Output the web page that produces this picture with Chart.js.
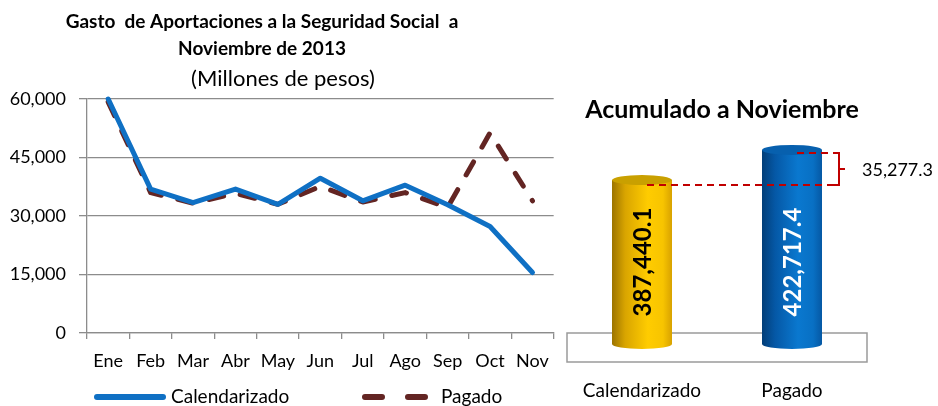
<!DOCTYPE html>
<html>
<head>
<meta charset="utf-8">
<script src="https://cdn.jsdelivr.net/npm/chart.js@4/dist/chart.umd.min.js"></script>
<style>
  html, body { margin: 0; padding: 0; background: #fff; }
  #wrap { position: relative; width: 938px; height: 406px; overflow: hidden; }
  #lineBox { position: absolute; left: 0; top: 0; width: 560px; height: 406px; }
  #barBox { position: absolute; left: 560px; top: 0; width: 378px; height: 406px; }
</style>
</head>
<body>
<div id="wrap">
  <div id="lineBox"><canvas id="lineChart"></canvas></div>
  <div id="barBox"><canvas id="barChart"></canvas></div>
</div>
<script>
// ---- data ----
const months = ['Ene', 'Feb', 'Mar', 'Abr', 'May', 'Jun', 'Jul', 'Ago', 'Sep', 'Oct', 'Nov'];
const calendarizado = [60000, 36900, 33400, 36900, 33000, 39700, 33900, 37900, 32900, 27300, 15500];
const pagado = [59200, 36000, 33300, 35800, 33000, 37600, 33600, 36000, 32200, 51300, 33900];
const yTicks = [0, 15000, 30000, 45000, 60000];

const totalLabels = ['Calendarizado', 'Pagado'];
const totalValues = [387440.1, 422717.4];

const FONT = 'Lato, "Open Sans", sans-serif';
const BLUE = '#0F70C4';
const MAROON = '#632523';
const GRID = '#8c8c8c';

Chart.defaults.font.family = FONT;
Chart.defaults.color = '#000';

const fmt = v => v.toLocaleString('en-US');
const fmt1 = v => v.toLocaleString('en-US', { minimumFractionDigits: 1, maximumFractionDigits: 1 });

// titles + legend for the monthly chart
const lineDecor = {
  id: 'lineDecor',
  afterDraw(chart) {
    const ctx = chart.ctx;
    ctx.save();
    ctx.fillStyle = '#000';
    ctx.textAlign = 'center';
    ctx.textBaseline = 'middle';
    ctx.font = 'bold 19px ' + FONT;
    ctx.fillText('Gasto  de Aportaciones a la Seguridad Social  a', 262, 22);
    ctx.fillText('Noviembre de 2013', 262, 49);
    ctx.font = '22px ' + FONT;
    ctx.fillText('(Millones de pesos)', 283, 79);

    // legend
    const ly = 397;
    ctx.lineCap = 'round';
    ctx.lineWidth = 6;
    ctx.strokeStyle = BLUE;
    ctx.beginPath();
    ctx.moveTo(97, ly);
    ctx.lineTo(163, ly);
    ctx.stroke();
    ctx.strokeStyle = MAROON;
    ctx.setLineDash([17, 26]);
    ctx.beginPath();
    ctx.moveTo(365, ly);
    ctx.lineTo(428, ly);
    ctx.stroke();
    ctx.setLineDash([]);
    ctx.textAlign = 'left';
    ctx.font = '19px ' + FONT;
    ctx.fillText('Calendarizado', 171, ly);
    ctx.fillText('Pagado', 441, ly);
    ctx.restore();
  }
};

new Chart(document.getElementById('lineChart'), {
  type: 'line',
  data: {
    labels: months,
    datasets: [
      {
        label: 'Calendarizado',
        data: calendarizado,
        borderColor: BLUE,
        borderWidth: 5,
        borderCapStyle: 'round',
        borderJoinStyle: 'round',
        pointRadius: 0,
        tension: 0,
        clip: false
      },
      {
        label: 'Pagado',
        data: pagado,
        borderColor: MAROON,
        borderWidth: 5,
        borderDash: [15, 17],
        borderCapStyle: 'round',
        borderJoinStyle: 'round',
        pointRadius: 0,
        tension: 0,
        clip: false
      }
    ]
  },
  options: {
    responsive: true,
    maintainAspectRatio: false,
    animation: false,
    layout: { padding: { top: 99, left: 0, right: 4, bottom: 33 } },
    plugins: { legend: { display: false }, tooltip: { enabled: false } },
    scales: {
      x: {
        offset: true,
        afterFit: s => { s.height = 40; },
        grid: { offset: true, drawOnChartArea: false, tickLength: 6, color: GRID, lineWidth: 1.3 },
        border: { color: GRID, width: 1.3 },
        ticks: { padding: 11, font: { size: 18 }, color: '#000', maxRotation: 0, autoSkip: false }
      },
      y: {
        min: 0,
        max: 60000,
        afterFit: s => { s.width = 87; },
        afterBuildTicks: s => { s.ticks = yTicks.map(v => ({ value: v })); },
        grid: { color: GRID, lineWidth: 1.3, tickLength: 8 },
        border: { color: GRID, width: 1.3 },
        ticks: { padding: 13, font: { size: 18 }, color: '#000', callback: v => fmt(v) }
      }
    }
  },
  plugins: [lineDecor]
});

// cylinders, floor, labels and the difference bracket
function shade(ctx, x0, x1, stops) {
  const g = ctx.createLinearGradient(x0, 0, x1, 0);
  stops.forEach(s => g.addColorStop(s[0], s[1]));
  return g;
}

const cylinderStyles = [
  { body: [[0, '#9C7400'], [0.22, '#D9A500'], [0.6, '#FFCC00'], [0.85, '#F7C400'], [1, '#D8A200']], top: '#C9A000', text: '#000' },
  { body: [[0, '#023E78'], [0.22, '#0558A6'], [0.6, '#0A78CF'], [0.85, '#0870C4'], [1, '#0558A4']], top: '#0760AE', text: '#fff' }
];

const cylinders = {
  id: 'cylinders',
  beforeDatasetsDraw(chart) {
    const ctx = chart.ctx;
    const a = chart.chartArea;
    const base = chart.scales.y.getPixelForValue(chart.scales.y.min);
    ctx.save();
    ctx.fillStyle = '#fff';
    ctx.strokeStyle = '#9a9a9a';
    ctx.lineWidth = 1.5;
    ctx.fillRect(a.left, base - 11, a.right - a.left, 29);
    ctx.strokeRect(a.left, base - 11, a.right - a.left, 29);
    ctx.restore();
  },
  afterDatasetsDraw(chart) {
    const ctx = chart.ctx;
    const yScale = chart.scales.y;
    const base = yScale.getPixelForValue(yScale.min);
    const bars = chart.getDatasetMeta(0).data;
    const ry = 5;
    ctx.save();
    bars.forEach((bar, i) => {
      const st = cylinderStyles[i];
      const rx = bar.width / 2;
      const x0 = bar.x - rx, x1 = bar.x + rx;
      ctx.fillStyle = shade(ctx, x0, x1, st.body);
      ctx.beginPath();
      ctx.moveTo(x0, bar.y);
      ctx.lineTo(x0, base);
      ctx.ellipse(bar.x, base, rx, ry, 0, Math.PI, 0, true);
      ctx.lineTo(x1, bar.y);
      ctx.closePath();
      ctx.fill();
      ctx.fillStyle = st.top;
      ctx.beginPath();
      ctx.ellipse(bar.x, bar.y, rx, ry, 0, 0, Math.PI * 2);
      ctx.fill();
    });

    // rotated value labels, centred on the shorter cylinder
    const lowTop = Math.max(...bars.map(b => b.y));
    const midY = (lowTop + base) / 2;
    ctx.font = 'bold 24px ' + FONT;
    ctx.textAlign = 'center';
    ctx.textBaseline = 'middle';
    bars.forEach((bar, i) => {
      ctx.save();
      ctx.translate(bar.x + 1, midY);
      ctx.rotate(-Math.PI / 2);
      ctx.fillStyle = cylinderStyles[i].text;
      ctx.fillText(fmt1(totalValues[i]), 0, 0);
      ctx.restore();
    });

    // difference bracket
    const b0 = bars[0], b1 = bars[1];
    const yLow = b0.y + 5, yHigh = b1.y + 3;
    const bx = 279;
    ctx.strokeStyle = '#C00000';
    ctx.lineWidth = 2;
    ctx.setLineDash([7, 5]);
    ctx.beginPath();
    ctx.moveTo(b0.x + 5, yLow);
    ctx.lineTo(bx - 6, yLow);
    ctx.moveTo(b1.x + 5, yHigh);
    ctx.lineTo(bx - 6, yHigh);
    ctx.stroke();
    ctx.setLineDash([]);
    ctx.beginPath();
    ctx.moveTo(bx - 6, yHigh);
    ctx.lineTo(bx, yHigh);
    ctx.lineTo(bx, yLow);
    ctx.lineTo(bx - 6, yLow);
    ctx.moveTo(bx, (yHigh + yLow) / 2);
    ctx.lineTo(bx + 6, (yHigh + yLow) / 2);
    ctx.stroke();
    ctx.fillStyle = '#000';
    ctx.font = '18px ' + FONT;
    ctx.textAlign = 'left';
    ctx.fillText(fmt1(totalValues[1] - totalValues[0]), bx + 23, (yHigh + yLow) / 2 + 1);

    // title
    ctx.font = 'bold 25px ' + FONT;
    ctx.textAlign = 'center';
    ctx.fillText('Acumulado a Noviembre', 162, 110);
    ctx.restore();
  }
};

new Chart(document.getElementById('barChart'), {
  type: 'bar',
  data: {
    labels: totalLabels,
    datasets: [{
      label: 'Acumulado',
      data: totalValues,
      backgroundColor: 'rgba(0,0,0,0)',
      barPercentage: 0.4,
      categoryPercentage: 1
    }]
  },
  options: {
    responsive: true,
    maintainAspectRatio: false,
    animation: false,
    layout: { padding: { top: 131, left: 7, right: 71, bottom: 0 } },
    plugins: { legend: { display: false }, tooltip: { enabled: false } },
    scales: {
      x: {
        afterFit: s => { s.height = 62; s.paddingLeft = 0; s.paddingRight = 0; },
        grid: { display: false, drawTicks: false },
        border: { display: false },
        ticks: { padding: 35, font: { size: 19 }, color: '#000', maxRotation: 0, autoSkip: false }
      },
      y: { display: false, min: 195000, max: 445000 }
    }
  },
  plugins: [cylinders]
});
</script>
</body>
</html>
